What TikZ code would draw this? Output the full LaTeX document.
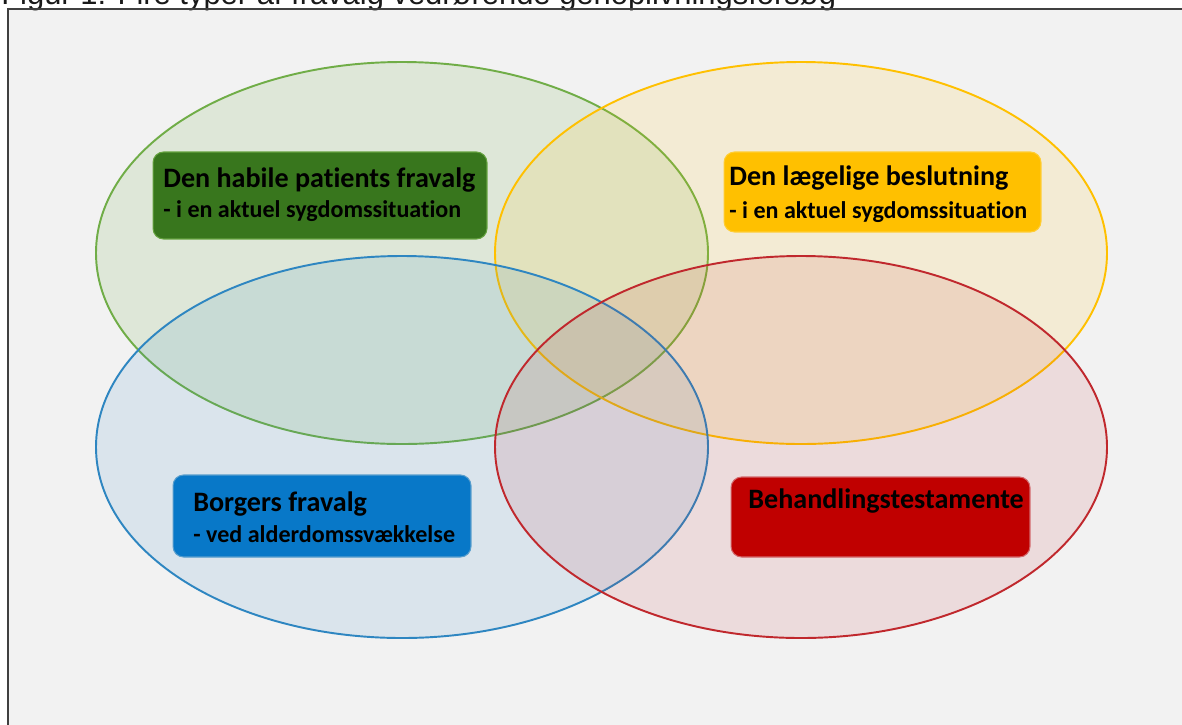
\documentclass[tikz,border=0pt]{standalone}
\usepackage{fontspec}
\setmainfont{Carlito}[Ligatures=NoCommon]
\newfontfamily\arialfont{Liberation Sans}
\usepackage{xcolor}
\usetikzlibrary{math}
\definecolor{mygreen}{RGB}{112,173,71}
\definecolor{myyellow}{RGB}{255,192,0}
\definecolor{myblue}{RGB}{46,134,193}
\definecolor{myred}{RGB}{192,40,45}
\definecolor{boxgreen}{RGB}{56,118,29}
\definecolor{boxyellow}{RGB}{255,192,0}
\definecolor{boxblue}{RGB}{8,120,200}
\definecolor{boxred}{RGB}{192,0,0}
\definecolor{framebg}{RGB}{242,242,242}

\begin{document}
\begin{tikzpicture}[x=0.02cm,y=-0.02cm,
  tbox/.style={rounded corners=6pt, line width=0.6pt},
  lbl/.style={anchor=west, align=left, inner sep=0pt, font=\bfseries, text=black}]
\tikzmath{
\rx=306;
\ry=191;
}
\useasboundingbox (0,0) rectangle (1182,724);
\clip (0,0) rectangle (1182,724);

\fill[framebg] (8,9) rectangle (1200,740);
\node[anchor=base west, inner sep=0pt, text=black!90, font=\arialfont\fontsize{17.6}{20}\selectfont] (title) at (1,4) {Figur 1: Fire typer af fravalg vedrørende genoplivningsforsøg};
\draw[line width=1.7pt, color=black!75] (8,740) -- (8,9) -- (1200,9);

\foreach \cx/\cy/\col/\op in {402/253/mygreen/0.15, 801/253/myyellow/0.12, 402/447/myblue/0.12, 801/447/myred/0.11}{
  \draw[line width=1.1pt, color=\col, fill=\col, fill opacity=\op] (\cx,\cy) ellipse [x radius=\rx, y radius=\ry];
}

% boxes
\node[tbox, fill=boxgreen, draw=mygreen!80!boxgreen, minimum width=6.68cm, minimum height=1.74cm] (gbox) at (320,195.5) {};
\node[tbox, fill=boxyellow, draw=myyellow!80!white, minimum width=6.34cm, minimum height=1.6cm] (ybox) at (882.5,192) {};
\node[tbox, fill=boxblue, draw=myblue!80!white, minimum width=5.96cm, minimum height=1.64cm] (bbox) at (322,516) {};
\node[tbox, fill=boxred, draw=myred!70!white, minimum width=5.98cm, minimum height=1.6cm] (rbox) at (880.5,517) {};

\node[lbl] (gtxt) at (163,194.5) {\fontsize{16}{18}\selectfont Den habile patients fravalg\\[4pt]\fontsize{13.7}{16}\selectfont - i en aktuel sygdomssituation};
\node[lbl] (ytxt) at (729,194) {\fontsize{16}{18}\selectfont Den lægelige beslutning\\[5.5pt]\fontsize{13.7}{16}\selectfont - i en aktuel sygdomssituation};
\node[lbl] (btxt) at (193,517) {\fontsize{16}{18}\selectfont Borgers fravalg\\[4pt]\fontsize{13.7}{16}\selectfont - ved alderdomssvækkelse};
\node[lbl] (rtxt) at (748,501) {\fontsize{16}{18}\selectfont Behandlingstestamente};
\end{tikzpicture}
\end{document}
